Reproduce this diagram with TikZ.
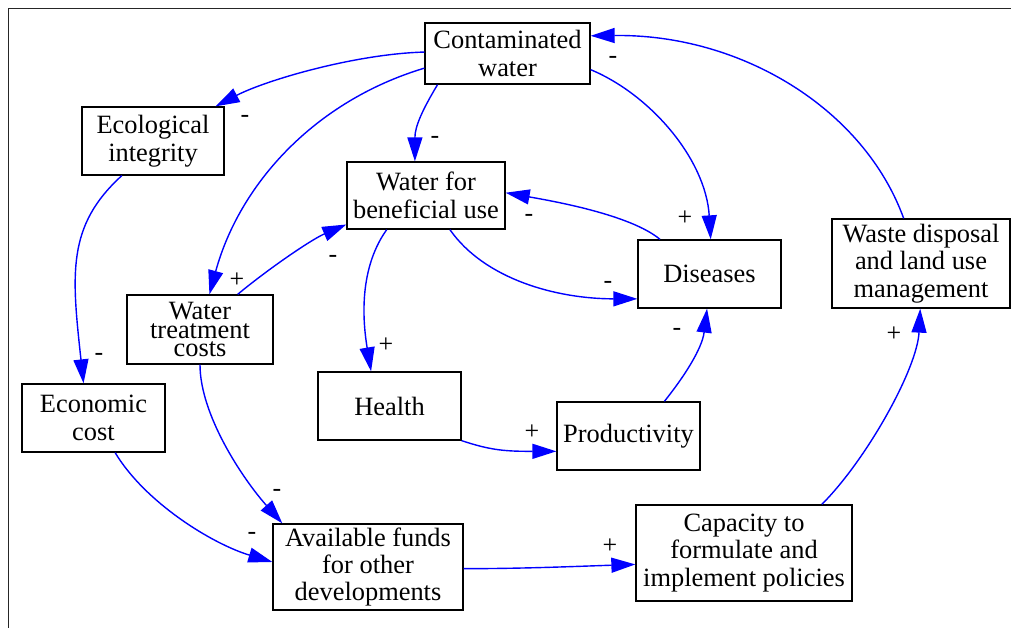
\documentclass[tikz,border=0pt]{standalone}
\usepackage{fontspec}
\setmainfont{Liberation Serif}
\usetikzlibrary{arrows.meta}
\newcommand\tightlines{\fontsize{26.5}{19}\selectfont\lineskiplimit=-20bp\relax}

\begin{document}
\begin{tikzpicture}[x=1bp, y=-1bp,
        box/.style={draw, line width=1.3bp, inner sep=0pt, align=center,
            font=\fontsize{26.5}{27.5}\selectfont},
        link/.style={draw=blue, line width=1.4bp, -{Triangle[length=24bp,width=15bp]}},
        sgn/.style={inner sep=0pt, font=\fontsize{26}{26}\selectfont}]
        \useasboundingbox (0,0) rectangle (1011,628);
        \draw[line width=1bp, black!85] (8.5,628) -- (8.5,9) -- (1011,9);

        \node[box, minimum width=165bp, minimum height=61bp] (cw) at (507.5,53.5) {Contaminated\\water};
        \node[box, minimum width=142bp, minimum height=68bp] (eco) at (153,141) {Ecological\\integrity};
        \node[box, minimum width=158bp, minimum height=67bp] (wbu) at (426,195.5) {Water for\\beneficial use};
        \node[box, minimum width=143bp, minimum height=68bp] (dis) at (709.5,274) {Diseases};
        \node[box, minimum width=178bp, minimum height=89bp] (wst) at (921,263.5) {Waste disposal\\and land use\\management};
        \node[box, minimum width=146bp, minimum height=69bp, font=\tightlines] (wtc) at (200,329.5) {Water\\treatment\\costs};
        \node[box, minimum width=143bp, minimum height=68bp] (ecn) at (93.5,418) {Economic\\cost};
        \node[box, minimum width=143bp, minimum height=68bp] (hlt) at (389.5,406) {Health};
        \node[box, minimum width=143bp, minimum height=68bp] (prd) at (628.5,436) {Productivity};
        \node[box, minimum width=190bp, minimum height=86bp] (fnd) at (368,567) {Available funds\\for other\\developments};
        \node[box, minimum width=216bp, minimum height=96bp] (cap) at (744,553) {Capacity to\\formulate and\\implement policies};

        \draw[link] (cw.179) .. controls +(-70,2) and +(50,-26) .. (eco.29);
        \draw[link] (cw.204) .. controls +(-15,25) and +(0,-35) .. (wbu.108);
        \draw[link] (cw.190) .. controls +(-110,33) and +(30,-110) .. (wtc.75);
        \draw[link] (cw.349) .. controls +(60,25) and +(-5,-80) .. (dis.88);
        \draw[link] (wst.111) .. controls +(-40,-110) and +(150,-2) .. (cw.12);
        \draw[link] (dis.145) .. controls +(-30,-25) and +(45,8) .. (wbu.2);
        \draw[link] (wbu.305) .. controls +(35,50) and +(-80,0) .. (dis.199);
        \draw[link] (wtc.43) .. controls +(30,-25) and +(-35,15) .. (wbu.200);
        \draw[link] (wbu.221) .. controls +(-25,35) and +(-10,-60) .. (hlt.118);
        \draw[link] (hlt.south east) .. controls +(30,10) and +(-50,0) .. (prd.192);
        \draw[link] (prd.44) .. controls +(20,-25) and +(-5,40) .. (dis.266);
        \draw[link] (eco.228) .. controls +(-55,50) and +(-12,-110) .. (ecn.106);
        \draw[link] (wtc.south) .. controls +(0,50) and +(-40,-45) .. (fnd.153);
        \draw[link] (ecn.302) .. controls +(30,50) and +(-60,-18) .. (fnd.177);
        \draw[link] (fnd.359) .. controls +(60,0) and +(-60,2) .. (cap.186);
        \draw[link] (cap.32) .. controls +(45,-45) and +(-3,60) .. (wst.269);

        \node[sgn] (s1) at (245,119) {-};
        \node[sgn] (s2) at (435,140) {-};
        \node[sgn] (s3) at (237,280) {+};
        \node[sgn] (s4) at (685,218) {+};
        \node[sgn] (s5) at (613,60) {-};
        \node[sgn] (s6) at (529,218) {-};
        \node[sgn] (s7) at (608,285) {-};
        \node[sgn] (s8) at (333,259) {-};
        \node[sgn] (s9) at (386,345) {+};
        \node[sgn] (s10) at (532,432) {+};
        \node[sgn] (s11) at (677,332) {-};
        \node[sgn] (s12) at (99,357) {-};
        \node[sgn] (s13) at (277,493) {-};
        \node[sgn] (s14) at (252,536) {-};
        \node[sgn] (s15) at (610,546) {+};
        \node[sgn] (s16) at (894,334) {+};
    \end{tikzpicture}
\end{document}
